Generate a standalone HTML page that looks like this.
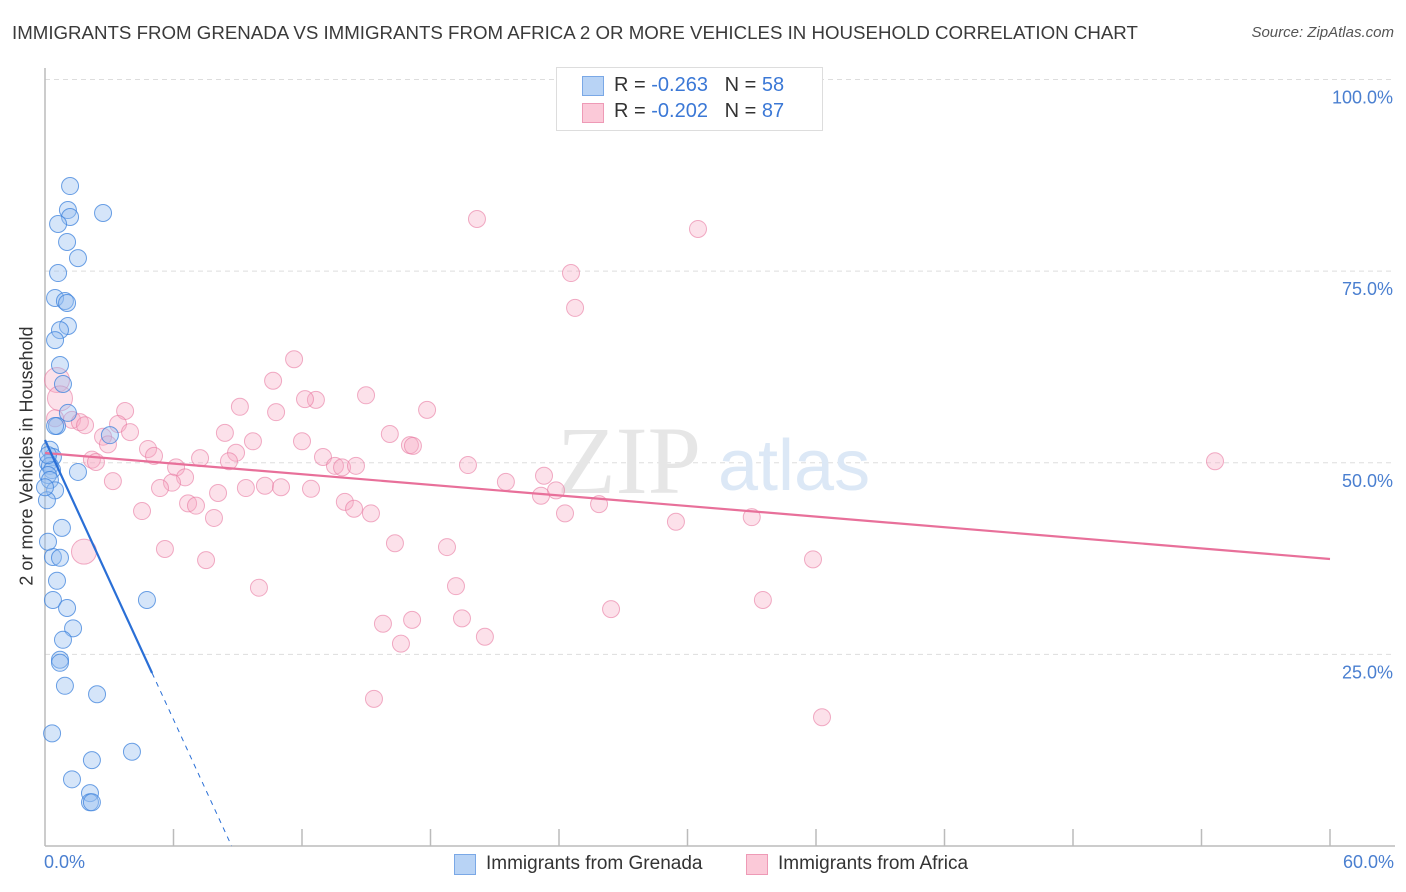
<!DOCTYPE html>
<html><head><meta charset="utf-8">
<style>
body{margin:0;background:#fff;font-family:"Liberation Sans",sans-serif;}
#wrap{position:relative;width:1406px;height:892px;overflow:hidden;}
.t{position:absolute;white-space:nowrap;}
</style></head>
<body>
<div id="wrap">
<div class="t" style="left:12px;top:22px;font-size:18.7px;color:#3a3a3a;">IMMIGRANTS FROM GRENADA VS IMMIGRANTS FROM AFRICA 2 OR MORE VEHICLES IN HOUSEHOLD CORRELATION CHART</div>
<div class="t" style="right:12px;top:24px;font-size:15px;color:#555;font-style:italic;">Source: ZipAtlas.com</div>
<svg id="svg" width="1406" height="892" style="position:absolute;left:0;top:0"></svg>
</div>
<script>
const blueX=[1.17,1.07,1.17,2.71,0.61,1.03,1.54,0.61,0.47,0.93,1.03,1.07,0.70,0.47,0.70,0.84,1.07,0.56,0.47,3.03,0.23,0.37,0.14,0.23,0.33,0.14,1.54,0.23,0.47,0.09,0.79,0.37,0.70,0.56,0.37,1.03,4.76,1.31,0.84,0.70,0.70,0.93,2.43,0.33,4.06,2.19,1.26,2.10,2.10,2.19,0.14,0,0.14];
const blueY=[86.1,82.97,82.06,82.58,81.15,78.8,76.7,74.75,71.5,71.1,70.84,67.84,67.3,66.0,62.75,60.27,56.5,54.8,54.8,53.6,51.7,50.75,49.97,49.6,49.05,48.4,48.8,47.75,46.4,45.1,41.5,37.7,37.6,34.6,32.1,31.05,32.1,28.4,26.9,24.3,23.9,20.9,19.8,14.7,12.3,11.2,8.7,6.9,5.7,5.7,51.0,46.8,39.7];
const pinkX=[20.17,30.49,24.56,24.75,11.63,10.65,0.56,0.70,14.99,17.84,9.1,3.74,12.65,12.14,10.79,1.26,1.63,3.41,8.4,3.97,16.1,2.71,17.04,9.71,12.0,17.18,4.81,2.94,5.09,8.92,8.59,7.24,12.98,2.19,2.38,13.54,13.87,14.52,19.75,6.12,54.63,6.54,23.3,21.52,5.93,5.37,10.27,11.02,9.38,12.42,23.86,8.08,23.16,14.0,6.68,7.05,14.43,15.22,25.87,24.28,4.53,7.89,29.46,33.0,5.6,16.34,18.77,7.52,35.86,1.82,19.19,9.99,26.43,33.52,17.14,15.78,19.47,20.54,16.62,15.36,36.28,3.17,0.47,1.87];
const pinkY=[81.8,80.5,74.75,70.2,63.5,60.7,60.8,58.4,58.8,56.9,57.3,56.75,58.2,58.3,56.6,55.6,55.3,55.05,53.9,54.0,53.75,53.4,52.3,52.8,52.8,52.2,51.8,52.4,50.9,51.3,50.2,50.6,50.75,50.4,50.1,49.6,49.4,49.6,49.7,49.4,50.2,48.1,48.3,47.5,47.4,46.7,47.0,46.8,46.7,46.6,46.4,46.05,45.7,44.9,44.7,44.4,44.0,43.4,44.6,43.4,43.7,42.8,42.3,42.9,38.75,39.5,39.0,37.3,37.4,38.4,33.9,33.7,30.9,32.1,29.5,29.0,29.7,27.3,26.4,19.2,16.8,47.6,55.8,54.9];
const pinkBig=[6,7,69];
const blueTrend=[52.97,-6.08]; // intercept, slope
const blueSolidEnd=5.0;
const pinkTrend=[51.27,37.44]; // y at x=0, y at x=60
const yTicks=[25,50,75,100];
const yTickLabels=["25.0%","50.0%","75.0%","100.0%"];

const X0=45,X1=1330,Y0=846,Y100=79.5;
const sx=v=>X0+v/60*(X1-X0);
const sy=v=>Y0-v/100*(Y0-Y100);
const svg=document.getElementById('svg');
const NS='http://www.w3.org/2000/svg';
function mk(tag,attrs){const e=document.createElementNS(NS,tag);for(const k in attrs)e.setAttribute(k,attrs[k]);svg.appendChild(e);return e;}

yTicks.forEach((t,i)=>{
  const g=mk('line',{x1:X0,x2:1395,y1:sy(t),y2:sy(t),stroke:'#ddd','stroke-dasharray':'5,4'});
  
  
  const tx=mk('text',{x:1393,y:sy(t)+24,'text-anchor':'end','font-size':18,fill:'#4a7fd0','font-family':'Liberation Sans, sans-serif'});
  tx.textContent=yTickLabels[i];
  
  
});
let a=mk('line',{x1:X0,x2:X0,y1:68,y2:Y0,stroke:'#bbb','stroke-width':1.5});


a=mk('line',{x1:X0,x2:1395,y1:Y0,y2:Y0,stroke:'#bbb','stroke-width':1.5});


for(let i=1;i<=10;i++){const x=X0+i*(X1-X0)/10;const tk=mk('line',{x1:x,x2:x,y1:829,y2:Y0,stroke:'#bbb','stroke-width':1.5});

}
let w=mk('text',{x:557,y:493,'font-size':96,fill:'#e6e6e6','font-family':'Liberation Serif, serif'});w.textContent='ZIP';


w=mk('text',{x:718,y:490,'font-size':72,fill:'#dce8f6','font-family':'Liberation Sans, sans-serif'});w.textContent='atlas';



pinkX.forEach((v,i)=>{const big=pinkBig.includes(i);const c=mk('circle',{cx:sx(v),cy:sy(pinkY[i]),r:big?12.5:8.5,fill:'rgba(246,170,195,0.35)',stroke:'rgba(232,120,160,0.6)','stroke-width':1});

});
blueX.forEach((v,i)=>{const c=mk('circle',{cx:sx(v),cy:sy(blueY[i]),r:8.5,fill:'rgba(150,190,240,0.4)',stroke:'rgba(60,130,220,0.75)','stroke-width':1});

});

let l=mk('line',{x1:sx(0),y1:sy(pinkTrend[0]),x2:sx(60),y2:sy(pinkTrend[1]),stroke:'#e8709a','stroke-width':2.2});


const bz=-blueTrend[0]/blueTrend[1];
l=mk('line',{x1:sx(0),y1:sy(blueTrend[0]),x2:sx(blueSolidEnd),y2:sy(blueTrend[0]+blueTrend[1]*blueSolidEnd),stroke:'#2a6fd6','stroke-width':2.2});


l=mk('line',{x1:sx(blueSolidEnd),y1:sy(blueTrend[0]+blueTrend[1]*blueSolidEnd),x2:sx(bz),y2:sy(0),stroke:'#2a6fd6','stroke-width':1,'stroke-dasharray':'5,5'});


</script>
<div class="t" style="left:27px;top:456px;font-size:18px;color:#333;transform:translate(-50%,-50%) rotate(-90deg);">2 or more Vehicles in Household</div>
<div class="t" style="left:44px;top:852px;font-size:18px;color:#4a7fd0;">0.0%</div>
<div class="t" style="right:12px;top:852px;font-size:18px;color:#4a7fd0;">60.0%</div>
<div style="position:absolute;left:556px;top:67px;width:265px;height:62px;border:1px solid #ddd;background:#fff;font-size:20px;color:#333;">
 <div style="position:absolute;left:25px;top:8px;width:20px;height:18px;background:#b8d3f5;border:1px solid #7aa8e6;"></div>
 <div class="t" style="left:57px;top:6px;">R = <span style="color:#3b78d6">-0.263</span>&nbsp;&nbsp;&nbsp;N = <span style="color:#3b78d6">58</span></div>
 <div style="position:absolute;left:25px;top:35px;width:20px;height:18px;background:#fbc9d8;border:1px solid #ee9ab6;"></div>
 <div class="t" style="left:57px;top:32px;">R = <span style="color:#3b78d6">-0.202</span>&nbsp;&nbsp;&nbsp;N = <span style="color:#3b78d6">87</span></div>
</div>
<div style="position:absolute;left:454px;top:853px;font-size:19px;color:#333;">
 <div style="position:absolute;left:0;top:1px;width:20px;height:19px;background:#b8d3f5;border:1px solid #7aa8e6;"></div>
 <div class="t" style="left:32px;top:0;">Immigrants from Grenada</div></div>
<div style="position:absolute;left:746px;top:853px;font-size:19px;color:#333;">
 <div style="position:absolute;left:0;top:1px;width:20px;height:19px;background:#fbc9d8;border:1px solid #ee9ab6;"></div>
 <div class="t" style="left:32px;top:0;">Immigrants from Africa</div></div>
</body></html>
